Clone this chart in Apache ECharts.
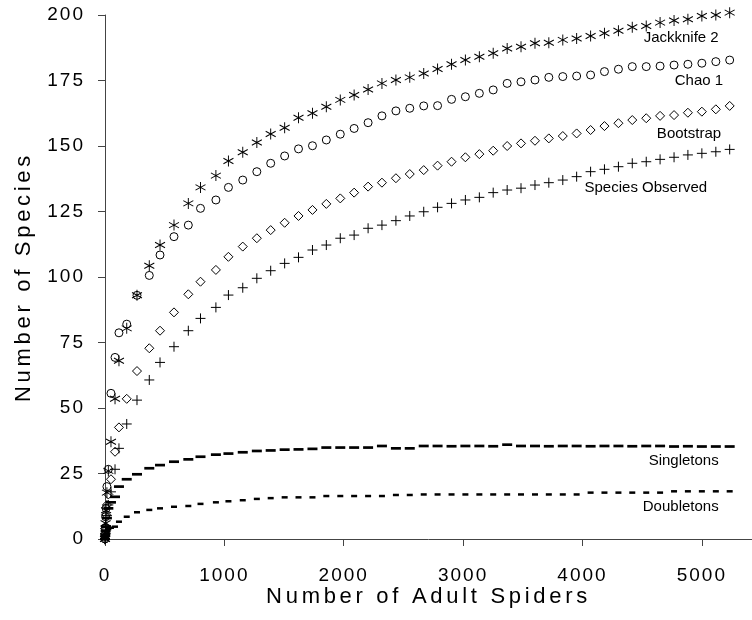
<!DOCTYPE html>
<html>
<head>
<meta charset="utf-8">
<script src="https://cdn.jsdelivr.net/npm/echarts@6/dist/echarts.min.js"></script>
<style>
html, body { margin: 0; padding: 0; background: #fff; }
#chart { width: 752px; height: 620px; }
</style>
</head>
<body>
<div id="chart"></div>
<script>
// ---------------- data ----------------
const spiders = [0, 2, 5, 9, 16, 28, 50, 84, 117, 182, 268, 371, 461, 578, 698, 800, 929, 1034, 1154,
  1272, 1388, 1505, 1621, 1738, 1854, 1971, 2087, 2204, 2320, 2437, 2553, 2670, 2786, 2903, 3019, 3136,
  3252, 3369, 3485, 3602, 3718, 3835, 3951, 4068, 4184, 4301, 4417, 4534, 4650, 4767, 4883, 5000, 5117, 5233];

const jackknife2 = [0, 3, 6, 11, 17.7, 26, 37.1, 53.5, 68, 80.4, 93, 104.3, 112.2, 119.8, 128.1, 134.2, 138.7, 144.3, 147.6,
  151.3, 154.6, 157, 160.8, 162.5, 165, 167.6, 169.5, 171.6, 173.9, 175.2, 176.2, 177.7, 179.4, 181.2, 182.8, 184.1,
  185.4, 187.2, 187.9, 189.2, 189.4, 190.5, 191, 192, 193, 194, 195.3, 195.8, 197.1, 197.9, 198.4, 199.6, 200, 200.9];

const chao1 = [0, 4.1, 8.5, 11.7, 20, 26.6, 55.6, 69.3, 78.7, 82, 93, 100.6, 108.4, 115.4, 119.8, 126.2, 129.4, 134.2, 137,
  140.2, 143.4, 146.2, 148.9, 150.1, 152.3, 154.5, 156.7, 158.9, 161.5, 163.4, 164.4, 165.3, 165.4, 167.8, 168.8, 170.1,
  171.4, 173.9, 174.5, 175.2, 176.2, 176.5, 176.7, 177.1, 178.4, 179.3, 180.3, 180.3, 180.5, 180.9, 181.2, 181.6, 182.2, 182.8];

const bootstrap = [0, 2, 4.7, 9.2, 13, 17, 22.8, 33.3, 42.6, 53.5, 64.1, 72.8, 79.5, 86.5, 93.4, 98.2, 102.7, 107.7, 111.6,
  114.8, 117.9, 120.7, 123.3, 125.6, 127.9, 130, 132.2, 134.5, 136, 137.7, 139.3, 140.8, 142.5, 144, 145.7, 146.9,
  148.2, 150, 151, 152, 152.9, 153.8, 154.8, 156.1, 157.6, 158.7, 159.9, 160.6, 161.5, 161.8, 162.7, 163.1, 164, 165.3];

const speciesObserved = [0, 1, 2, 5, 9, 13, 18, 26.6, 34.6, 43.9, 53, 60.7, 67.4, 73.4, 79.5, 84.2, 88.4, 93.1, 95.9,
  99.5, 102.4, 105.2, 107.5, 110.3, 112.2, 114.8, 116, 118.6, 119.8, 121.5, 123.3, 124.9, 126.6, 128.1, 129.4, 130.4,
  132.2, 133.2, 133.9, 135.1, 136, 137, 138.3, 140.2, 141.1, 142.1, 143.4, 144, 144.9, 145.7, 146.6, 147.2, 147.8, 148.7];

const singletons = [0, 1.5, 3, 4.7, 8, 11.7, 14, 16.1, 20, 22.8, 24.7, 27, 28.2, 29.5, 30.4, 31.4, 32.2, 32.6, 33.1,
  33.6, 33.8, 34.1, 34.2, 34.4, 34.9, 34.9, 34.9, 34.9, 35.5, 34.6, 34.6, 35.5, 35.5, 35.4, 35.5, 35.5,
  35.4, 36, 35.5, 35.5, 35.4, 35.5, 35.5, 35.4, 35.5, 35.5, 35.4, 35.5, 35.5, 35.3, 35.4, 35.3, 35.3, 35.3];

const doubletons = [0, 0.5, 1, 1.9, 2.8, 3.8, 4.3, 4.7, 6.6, 8.5, 10.2, 11.1, 11.7, 12.3, 12.6, 13.4, 14, 14.4, 14.8,
  15.3, 15.6, 15.9, 15.9, 15.9, 16.4, 16.4, 16.4, 16.4, 16.4, 16.8, 16.8, 17, 17, 17, 17, 17,
  17, 17, 17, 17, 17, 17, 17, 17.7, 17.7, 17.7, 17.7, 17.7, 17.7, 18.2, 18.2, 18.2, 18.2, 18.2];

const seriesNames = ['Jackknife 2', 'Chao 1', 'Bootstrap', 'Species Observed', 'Singletons', 'Doubletons'];
const xTicks = [0, 1000, 2000, 3000, 4000, 5000];
const yTicks = [0, 25, 50, 75, 100, 125, 150, 175, 200];
const xAxisTitle = 'Number of Adult Spiders';
const yAxisTitle = 'Number of Species';

// ---------- letter-spaced axis text (canvas letterSpacing for fonts tagged with sans-serif) ----------
(function () {
  var P = window.CanvasRenderingContext2D && CanvasRenderingContext2D.prototype;
  if (!P || !('letterSpacing' in P)) return;
  var orig = P.fillText;
  P.fillText = function (t, x, y, w) {
    var f = this.font || '';
    var prev = this.letterSpacing;
    if (f.indexOf('sans-serif') >= 0) {
      var m = f.match(/([\d.]+)px/);
      var s = m ? parseFloat(m[1]) : 12;
      this.letterSpacing = (s >= 21 ? 3.7 : 2) + 'px';
    } else {
      this.letterSpacing = '0px';
    }
    var r = (w === undefined) ? orig.call(this, t, x, y) : orig.call(this, t, x, y, w);
    this.letterSpacing = prev;
    return r;
  };
})();

const AXIS_FONT = 'Liberation Sans, Arial, sans-serif';
const NOTE_FONT = 'Liberation Sans, Arial';
const INK = '#000';
const AXIS_COLOR = '#444';

const asteriskPath = 'path://M0,-1L0,1M-0.866,-0.5L0.866,0.5M-0.866,0.5L0.866,-0.5';
const plusPath = 'path://M0,-1L0,1M-1,0L1,0';

function buildData(values, labelText, offset) {
  return spiders.map(function (x, i) {
    const item = { value: [x, values[i]] };
    if (i === spiders.length - 1) {
      item.label = {
        show: true,
        formatter: labelText,
        position: 'inside',
        align: 'right',
        verticalAlign: 'middle',
        offset: offset,
        color: INK,
        fontFamily: NOTE_FONT,
        fontSize: 15
      };
    }
    return item;
  });
}

function scatter(name, values, symbol, size, offset, filled) {
  return {
    name: name,
    type: 'scatter',
    zlevel: 1,
    clip: false,
    silent: true,
    symbol: symbol,
    symbolSize: size,
    itemStyle: filled
      ? { color: INK, borderWidth: 0, opacity: 1 }
      : { color: 'rgba(0,0,0,0)', borderColor: INK, borderWidth: 1, opacity: 1 },
    label: { show: false },
    emphasis: { disabled: true },
    data: buildData(values, name, offset)
  };
}

const chart = echarts.init(document.getElementById('chart'), null, { renderer: 'canvas', width: 752, height: 620 });

chart.setOption({
  animation: false,
  backgroundColor: '#fff',
  grid: { left: 105, right: 0, top: 15, bottom: 81, containLabel: false, outerBoundsMode: 'none' },
  xAxis: {
    type: 'value',
    min: 0,
    max: 5420,
    interval: 1000,
    name: xAxisTitle,
    nameLocation: 'middle',
    nameGap: 47,
    nameMoveOverlap: false,
    nameTextStyle: { color: INK, fontFamily: AXIS_FONT, fontSize: 22 },
    axisLine: { show: true, onZero: false, lineStyle: { color: AXIS_COLOR, width: 1 } },
    axisTick: { show: true, inside: false, length: 7, customValues: xTicks, lineStyle: { color: AXIS_COLOR, width: 1 } },
    axisLabel: {
      show: true, margin: 27, color: INK, fontFamily: AXIS_FONT, fontSize: 19, customValues: xTicks,
      formatter: function (v) { return String(v); }
    },
    splitLine: { show: false }
  },
  yAxis: {
    type: 'value',
    min: 0,
    max: 200,
    interval: 25,
    name: yAxisTitle,
    nameLocation: 'middle',
    nameGap: 70,
    nameRotate: 90,
    nameMoveOverlap: false,
    nameTextStyle: { color: INK, fontFamily: AXIS_FONT, fontSize: 22 },
    axisLine: { show: true, onZero: false, lineStyle: { color: AXIS_COLOR, width: 1 } },
    axisTick: { show: true, inside: false, length: 7, customValues: yTicks, lineStyle: { color: AXIS_COLOR, width: 1 } },
    axisLabel: {
      show: true, margin: 20, color: INK, fontFamily: AXIS_FONT, fontSize: 19, customValues: yTicks,
      formatter: function (v) { return String(v); }
    },
    splitLine: { show: false }
  },
  series: [
    scatter(seriesNames[0], jackknife2, asteriskPath, [10, 11], [-11, 25], false),
    scatter(seriesNames[1], chao1, 'circle', 8, [-6.6, 21], false),
    scatter(seriesNames[2], bootstrap, 'diamond', [9, 9], [-8.6, 28], false),
    scatter(seriesNames[3], speciesObserved, plusPath, [10, 10], [-22.6, 38.6], false),
    scatter(seriesNames[4], singletons, 'rect', [10, 2.7], [-11, 14.5], true),
    scatter(seriesNames[5], doubletons, 'rect', [6, 2.5], [-11, 16], true)
  ]
});
</script>
</body>
</html>
